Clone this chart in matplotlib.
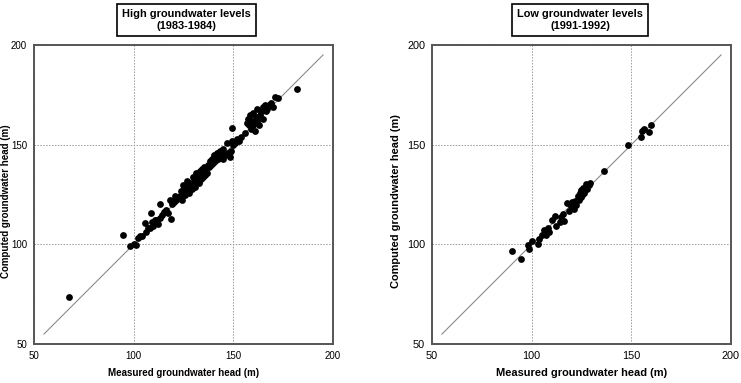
import matplotlib
matplotlib.use("Agg")
import matplotlib.pyplot as plt

plt.rcParams['font.family'] = ['Liberation Sans', 'DejaVu Sans']

# ---- data ----
high_measured = [67.5, 94.5, 98, 100, 101, 102, 103, 104, 105.5, 106, 107, 108, 108.7, 109, 109.5, 110,
                 110.5, 111, 112, 113, 113, 114, 115, 116, 117, 118, 118.7, 119, 120, 120.5, 121, 122,
                 123, 123.5, 124, 124.7, 125, 125.5, 126, 127, 127, 127.5, 128, 128.5, 129, 129.5, 130,
                 130, 131, 131, 131.5, 132, 132.5, 133, 133, 133.5, 134, 134, 134.5, 135, 135, 135.5,
                 136, 136.5, 137, 137.5, 138, 138.5, 139, 139.5, 140, 140.5, 141, 141.5, 142, 142.5,
                 143, 143.5, 144, 144.5, 145, 145, 146, 147, 147.5, 148, 148.5, 149, 149.3, 149.5, 150,
                 151, 152, 153, 154, 156, 157, 157.5, 158, 158.5, 159, 159.5, 160, 160, 161, 161.5,
                 162, 162, 163, 163.5, 164, 165, 165, 166, 166.5, 167, 168, 169, 170, 171, 172.5, 182]
high_computed = [73.5, 104.7, 99, 100, 99.5, 103, 104, 104, 110.7, 106, 108, 108, 115.7, 111, 109, 110.5,
                 112, 112, 110, 113, 120, 114.5, 116, 117, 115.5, 122, 112.7, 120, 121, 124, 122, 123,
                 124, 127, 122, 129.8, 126, 128, 125, 127, 132, 129, 126, 131, 130, 128, 131,
                 134, 129, 133, 136, 132, 134, 131, 135, 137, 133, 136, 138, 134, 137, 139,
                 135, 138, 136, 140, 139, 142, 140, 143, 141, 145, 142, 144, 146, 143,
                 145, 147, 144, 146, 148, 143, 145, 151, 146, 145, 144, 147, 158.4, 152, 150,
                 151, 153, 152, 154, 156, 161, 163, 160, 165, 158, 162, 160, 166, 157, 164,
                 162, 168, 160, 165, 167, 163, 169, 170, 167, 168, 170, 171, 169, 174, 173.5, 178]

low_measured = [90, 94.5, 98, 98.5, 100, 103, 103.5, 105, 106, 107, 108, 108.5, 110, 111.5, 112, 114,
                114.5, 115.5, 116, 117.5, 118.5, 119.5, 120, 121, 121.5, 122, 123, 123.5, 124, 124.5,
                125, 125.5, 126, 126.5, 127.5, 128, 129, 129.5, 136.5, 148.5, 155, 155.5, 156.5, 159, 160]
low_computed = [96.5, 92.5, 99.5, 97.5, 101.5, 100, 102.5, 104.5, 107, 104.5, 108, 106, 112, 114, 109, 111,
                113.5, 115, 111.5, 120.5, 116.5, 119, 121, 117.5, 121.5, 119.5, 124, 122, 126, 123.5,
                127.5, 125, 128.5, 126, 130.5, 128, 130, 131, 137, 150, 154, 157, 158, 156.5, 160]

one_to_one = [55, 195]
ticks = [50, 100, 150, 200]
titles = ["High groundwater levels\n(1983-1984)", "Low groundwater levels\n(1991-1992)"]
xlabel = "Measured groundwater head (m)"
ylabel = "Computed groundwater head (m)"

fig = plt.figure(figsize=(7.41, 3.83), dpi=100)
W, H = 741, 383
# x0, data, title, label size, tick size, ylabel x, title x
panels = [(34, high_measured, high_computed, titles[0], 7.0, 7.0, -0.077, 0.51),
          (432, low_measured, low_computed, titles[1], 7.9, 7.8, -0.104, 0.495)]

for x0, xm, yc, title, lsz, tsz, ylx, tx in panels:
    ax = fig.add_axes([x0 / W, 1 - 344 / H, 299 / W, 299 / H])
    ax.plot(one_to_one, one_to_one, color='#8a8a8a', lw=0.8, zorder=2)
    ax.scatter(xm, yc, s=24, color='black', zorder=3, linewidths=0)
    ax.set_xlim(50, 200)
    ax.set_ylim(50, 200)
    ax.set_xticks(ticks)
    ax.set_yticks(ticks)
    ax.grid(True, linestyle=(0, (1.5, 1.5)), color='#999999', lw=0.7)
    ax.tick_params(length=0, labelsize=tsz, pad=5)
    for sp in ax.spines.values():
        sp.set_color('#555555')
        sp.set_linewidth(1.4)
    ax.set_xlabel(xlabel, fontsize=lsz, fontweight='bold')
    ax.set_ylabel(ylabel, fontsize=lsz, fontweight='bold')
    ax.xaxis.set_label_coords(0.5, -0.080)
    ax.yaxis.set_label_coords(ylx, 0.477)
    ax.text(tx, 1.0836, title, transform=ax.transAxes, ha='center', va='center',
            fontsize=7.9, fontweight='bold', linespacing=1.35,
            bbox=dict(boxstyle='square,pad=0.45', fc='white', ec='black', lw=1.2))

fig.savefig("out.png", dpi=100)
